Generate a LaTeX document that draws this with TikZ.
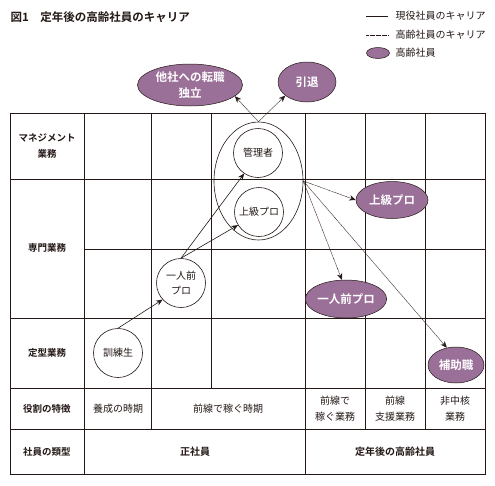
\documentclass[tikz,border=0pt]{standalone}
\usepackage{fontspec}
\setmainfont{Noto Sans CJK JP}[BoldFont={Noto Sans CJK JP Bold}]
\usetikzlibrary{arrows.meta,shapes.geometric}
\definecolor{ink}   {HTML}{231815}
\definecolor{senior}{HTML}{9A6F98}
\tikzset{
  gridline/.style  ={draw=ink, line width=0.8pt},
  rowlabel/.style  ={font=\fontsize{9.5}{16}\selectfont\bfseries, align=center, text=ink},
  celltext/.style  ={font=\fontsize{10}{16}\selectfont, align=center, text=ink},
  typetext/.style  ={font=\fontsize{10}{16}\selectfont\bfseries, align=center, text=ink},
  stagenode/.style ={circle, draw=ink, fill=white, line width=0.6pt, inner sep=0pt,
                     minimum size=49pt, align=center,
                     font=\fontsize{10}{15}\selectfont, text=ink},
  seniornode/.style={ellipse, draw=ink, fill=senior, line width=0.5pt, inner sep=0pt,
                     align=center, text=white,
                     font=\fontsize{11.5}{16}\selectfont\bfseries},
  careerarr/.style ={-{Stealth[length=6.5pt,width=5.5pt]}, line width=0.6pt, draw=ink},
  seniorarr/.style ={-{Stealth[length=6.5pt,width=5.5pt]}, line width=0.5pt, draw=ink,
                     dash pattern=on 0.7pt off 0.5pt},
}
\begin{document}
\begin{tikzpicture}[x=1pt,y=-1pt]
  \useasboundingbox (0,0) rectangle (495,485);
  % title and legend
  \node[anchor=west, font=\fontsize{11.5}{14}\selectfont\bfseries, text=ink] (title) at (7,17)
    {図1\hspace{1em}定年後の高齢社員のキャリア};
  \coordinate (lg1a) at (366,16); \coordinate (lg1b) at (388,16);
  \coordinate (lg2a) at (366,35); \coordinate (lg2b) at (388,35);
  \draw[line width=0.6pt, draw=ink] (lg1a) -- (lg1b);
  \draw[line width=0.6pt, draw=ink, dash pattern=on 0.7pt off 0.5pt] (lg2a) -- (lg2b);
  \node[anchor=west, celltext] (lgt1) at (392,16) {現役社員のキャリア};
  \node[anchor=west, celltext] (lgt2) at (392,35) {高齢社員のキャリア};
  \node[ellipse, draw=ink, fill=senior, line width=0.5pt,
        minimum width=23pt, minimum height=11pt, inner sep=0pt] (lgell) at (378,53) {};
  \node[anchor=west, celltext] (lgt3) at (392,53) {高齢社員};

  % table
  \draw[gridline] (10,113) rectangle (485,474);
  \draw[gridline] (10,179) -- (485,179);
  \draw[gridline] (84,249) -- (485,249);
  \draw[gridline] (10,318) -- (485,318);
  \draw[gridline] (10,388) -- (485,388);
  \draw[gridline] (10,429) -- (485,429);
  \draw[gridline] (84,113) -- (84,474);
  \draw[gridline] (151,113) -- (151,429);
  \draw[gridline] (211,113) -- (211,388);
  \draw[gridline] (305,113) -- (305,474);
  \draw[gridline] (365,113) -- (365,429);
  \draw[gridline] (425,113) -- (425,429);

  % row labels
  \node[rowlabel] (mgmt) at (47,146) {マネジメント\\業務};
  \node[rowlabel] (spec) at (47,248) {専門業務};
  \node[rowlabel] (rout) at (47,353) {定型業務};
  \node[rowlabel] (role) at (47,409) {役割の特徴};
  \node[rowlabel] (kind) at (47,452) {社員の類型};
  \node[celltext] (train) at (118,409) {養成の時期};
  \node[celltext] (earn)  at (228,409) {前線で稼ぐ時期};
  \node[celltext] (front) at (335,409) {前線で\\稼ぐ業務};
  \node[celltext] (supp)  at (395,409) {前線\\支援業務};
  \node[celltext] (noncore) at (455,409) {非中核\\業務};
  \node[typetext] (regular) at (195,452) {正社員};
  \node[typetext] (retired) at (395,452) {定年後の高齢社員};

  % career of regular staff
  \node[ellipse, draw=ink, line width=0.6pt, minimum width=89pt, minimum height=118pt]
    (grp) at (258.5,181) {};
  \node[stagenode] (kanri)  at (258,153) {管理者};
  \node[stagenode] (jokyuc) at (259,212) {上級プロ};
  \node[stagenode] (ichi)   at (181,283) {一人前\\プロ};
  \node[stagenode] (kunren) at (118,353) {訓練生};
  \draw[careerarr] (kunren.north) -- (ichi.222);
  \draw[careerarr] (ichi.north) -- (kanri.236);
  \draw[careerarr] (ichi.north) -- (jokyuc.212);

  % career of senior staff
  \node[seniornode, minimum width=105pt, minimum height=42pt] (tensyoku) at (190,85)
    {他社への転職\\独立};
  \node[seniornode, minimum width=58pt, minimum height=40pt] (intai) at (307,82) {引退};
  \node[seniornode, minimum width=72pt, minimum height=37pt] (jokyu) at (392,200) {上級プロ};
  \node[seniornode, minimum width=80pt, minimum height=38pt] (ichinin) at (346,299) {一人前プロ};
  \node[seniornode, minimum width=56pt, minimum height=36pt] (hojo) at (456,365) {補助職};
  \draw[seniorarr] (grp.north) -- (tensyoku.-14);
  \draw[seniorarr] (grp.north) -- (intai.212);
  \draw[seniorarr] (grp.east) -- (jokyu.west);
  \draw[seniorarr] (grp.east) -- (ichinin.102);
  \draw[seniorarr] (grp.east) -- (hojo.118);
\end{tikzpicture}
\end{document}
